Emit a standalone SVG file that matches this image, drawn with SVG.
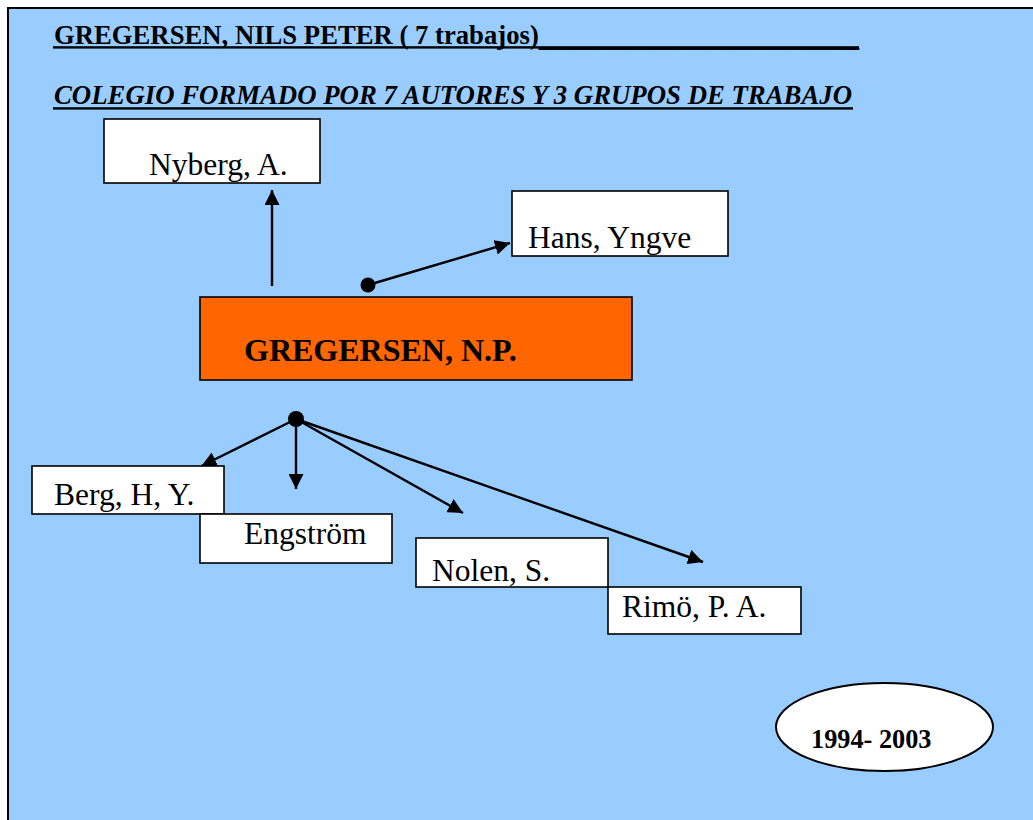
<svg xmlns="http://www.w3.org/2000/svg" width="1033" height="820" viewBox="0 0 1033 820">
  <style>
    text { font-family: "Liberation Serif", serif; fill: #000; }
    .box { fill: #ffffff; stroke: #000; stroke-width: 1.6; }
    .name { font-size: 31.5px; }
    .link { stroke: #000; stroke-width: 2.4; fill: none; marker-end: url(#arrow); }
    .rule { fill: #000; }
  </style>
  <defs>
    <marker id="arrow" viewBox="0 0 15 15" markerUnits="userSpaceOnUse" markerWidth="15" markerHeight="15" refX="15" refY="7.5" orient="auto">
      <path d="M0,0 L15,7.5 L0,15 z" fill="#000"/>
    </marker>
  </defs>

  <!-- page frame -->
  <rect x="0" y="0" width="1033" height="820" fill="#ffffff"/>
  <rect x="8" y="8" width="1040" height="830" fill="#99ccff" stroke="#000" stroke-width="2"/>

  <!-- headings -->
  <g id="heading" font-family="Liberation Serif, serif">
    <text x="54" y="43.5" font-size="27" font-weight="bold" textLength="805" lengthAdjust="spacingAndGlyphs">GREGERSEN, NILS PETER ( 7 trabajos)<tspan dy="2">________________________</tspan></text>
    <rect class="rule" x="53" y="46.2" width="806" height="2.4"/>
    <text x="54" y="104" font-size="27" font-weight="bold" font-style="italic" textLength="798" lengthAdjust="spacingAndGlyphs">COLEGIO FORMADO POR 7 AUTORES Y 3 GRUPOS DE TRABAJO</text>
    <rect class="rule" x="53" y="107.2" width="800" height="2.4"/>
  </g>

  <!-- connectors -->
  <g id="connectors">
    <line class="link" x1="272" y1="286" x2="272" y2="190"/>
    <line class="link" x1="368" y1="285" x2="510" y2="243"/>
    <circle cx="368" cy="285" r="7.5" fill="#000"/>
    <line class="link" x1="296" y1="419" x2="201.5" y2="466"/>
    <line class="link" x1="296" y1="419" x2="296" y2="489"/>
    <line class="link" x1="296" y1="419" x2="463" y2="513"/>
    <line class="link" x1="296" y1="419" x2="703" y2="562"/>
    <circle cx="296" cy="419" r="8" fill="#000"/>
  </g>

  <!-- authors -->
  <g id="node-nyberg" font-family="Liberation Serif, serif">
    <rect class="box" x="104" y="119" width="216" height="64"/>
    <text class="name" x="149" y="175">Nyberg, A.</text>
  </g>
  <g id="node-hans" font-family="Liberation Serif, serif">
    <rect class="box" x="512" y="191" width="216" height="65"/>
    <text class="name" x="528" y="248">Hans, Yngve</text>
  </g>
  <g id="node-gregersen" font-family="Liberation Serif, serif">
    <rect x="200" y="297" width="432" height="83" fill="#ff6600" stroke="#000" stroke-width="1.6"/>
    <text x="244" y="361" font-size="32" font-weight="bold">GREGERSEN, N.P.</text>
  </g>
  <g id="node-berg" font-family="Liberation Serif, serif">
    <rect class="box" x="32" y="466" width="192" height="48"/>
    <text class="name" x="54" y="505">Berg, H, Y.</text>
  </g>
  <g id="node-engstrom" font-family="Liberation Serif, serif">
    <rect class="box" x="200" y="514" width="192" height="49"/>
    <text class="name" x="244" y="544">Engström</text>
  </g>
  <g id="node-nolen" font-family="Liberation Serif, serif">
    <rect class="box" x="416" y="538" width="192" height="49"/>
    <text class="name" x="432" y="581">Nolen, S.</text>
  </g>
  <g id="node-rimo" font-family="Liberation Serif, serif">
    <rect class="box" x="608" y="587" width="193" height="47"/>
    <text class="name" x="622" y="617">Rimö, P. A.</text>
  </g>

  <!-- period -->
  <g id="node-period" font-family="Liberation Serif, serif">
    <ellipse cx="884.5" cy="727" rx="108.5" ry="44" fill="#ffffff" stroke="#000" stroke-width="2"/>
    <text x="811" y="748" font-size="26.3" font-weight="bold">1994- 2003</text>
  </g>
</svg>
